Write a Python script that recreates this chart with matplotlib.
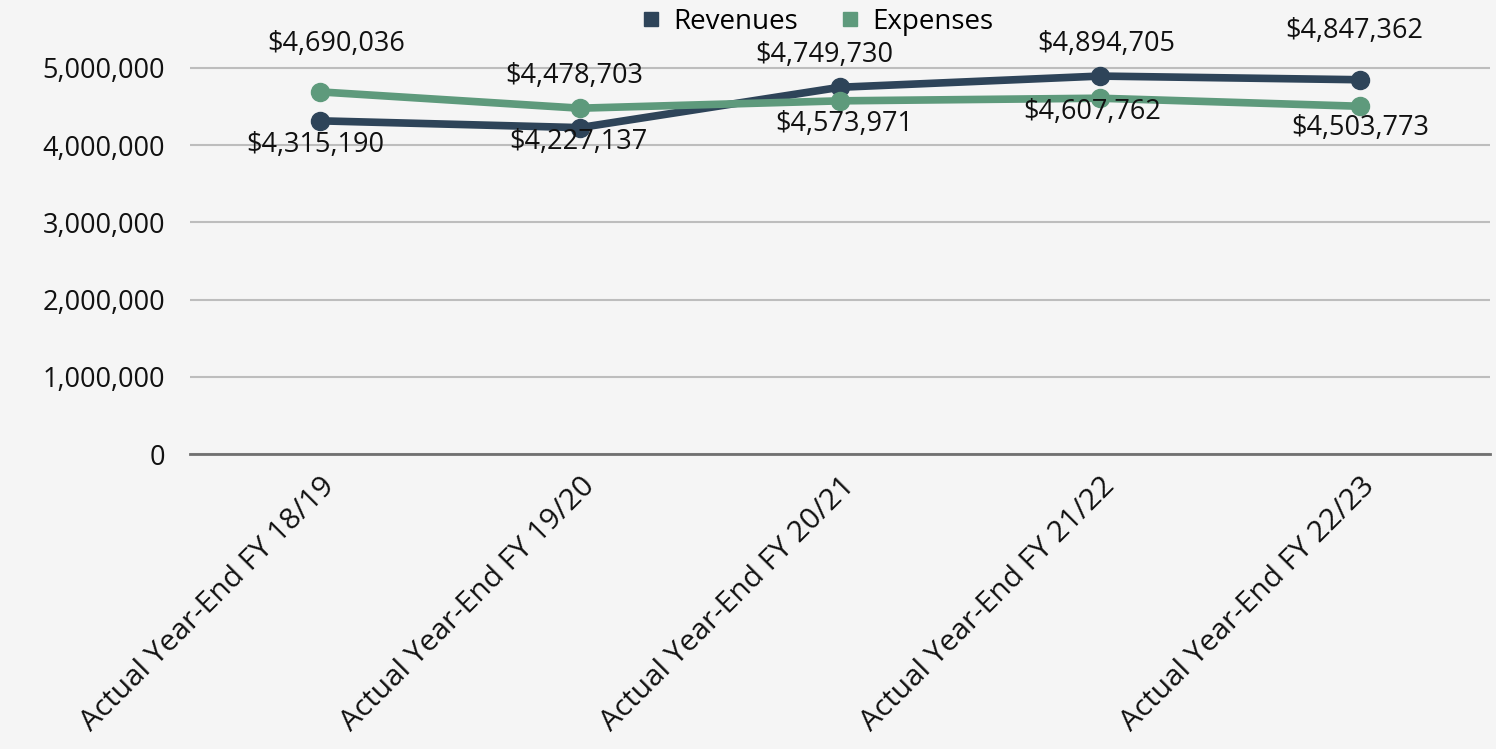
import matplotlib.pyplot as plt
from matplotlib.lines import Line2D
from matplotlib.ticker import FuncFormatter

plt.rcParams['font.family'] = ['Open Sans', 'DejaVu Sans']

categories = ['Actual Year-End FY 18/19', 'Actual Year-End FY 19/20',
              'Actual Year-End FY 20/21', 'Actual Year-End FY 21/22',
              'Actual Year-End FY 22/23']
revenues = [4315190, 4227137, 4749730, 4894705, 4847362]
expenses = [4690036, 4478703, 4573971, 4607762, 4503773]

# label offsets in points (dx, dy), tuned to mimic the original placement
rev_offsets = [(-3.6, -17.3), (-1.4, -10), (-11.5, 23), (4.3, 23), (-4.3, 35.3)]
exp_offsets = [(11.5, 34.6), (-4.3, 23), (2.9, -16.6), (-5.8, -10), (0, -15.8)]

REV_COLOR = '#2E4459'
EXP_COLOR = '#5E9A7C'
BG = '#F5F5F5'
TXT = '#111111'

fig = plt.figure(figsize=(14.96, 7.49), dpi=100, facecolor=BG)
ax = fig.add_axes([190 / 1496, 1 - 454 / 749, 1300 / 1496, 454 / 749])
ax.set_facecolor(BG)

x = range(len(categories))
ax.plot(x, revenues, color=REV_COLOR, lw=5.5, marker='o', ms=13,
        solid_capstyle='round', zorder=3)
ax.plot(x, expenses, color=EXP_COLOR, lw=5.5, marker='o', ms=13,
        solid_capstyle='round', zorder=3)

for i, v in enumerate(revenues):
    ax.annotate(f'${v:,}', (i, v), xytext=rev_offsets[i], textcoords='offset points',
                ha='center', va='center', fontsize=19.5, color=TXT, zorder=4)
for i, v in enumerate(expenses):
    ax.annotate(f'${v:,}', (i, v), xytext=exp_offsets[i], textcoords='offset points',
                ha='center', va='center', fontsize=19.5, color=TXT, zorder=4)

ax.set_xlim(-0.5, len(categories) - 0.5)
ax.set_ylim(0, 5.88e6)
ax.set_yticks([0, 1e6, 2e6, 3e6, 4e6, 5e6])
ax.yaxis.set_major_formatter(FuncFormatter(lambda v, p: f'{int(v):,}'))
ax.grid(axis='y', color='#BDBDBD', lw=1.5, zorder=0)
ax.set_axisbelow(True)
for s in ['top', 'right', 'left']:
    ax.spines[s].set_visible(False)
ax.spines['bottom'].set_color('#707070')
ax.spines['bottom'].set_linewidth(2)

ax.set_xticks(list(x))
ax.set_xticklabels(categories, rotation=45, ha='right', rotation_mode='anchor',
                   fontsize=21.5, color=TXT)
ax.tick_params(axis='x', length=0, pad=13)
ax.tick_params(axis='y', length=0, pad=18, labelsize=19.5, labelcolor=TXT)

handles = [Line2D([], [], ls='', marker='s', ms=9.5, color=REV_COLOR),
           Line2D([], [], ls='', marker='s', ms=9.5, color=EXP_COLOR)]
fig.legend(handles, ['Revenues', 'Expenses'], loc='center', bbox_to_anchor=(0.545, 0.971),
           ncol=2, frameon=False, fontsize=20, handletextpad=0.3, columnspacing=1.4,
           handlelength=1.0, borderpad=0)

fig.savefig('out.png', dpi=100, facecolor=BG)
